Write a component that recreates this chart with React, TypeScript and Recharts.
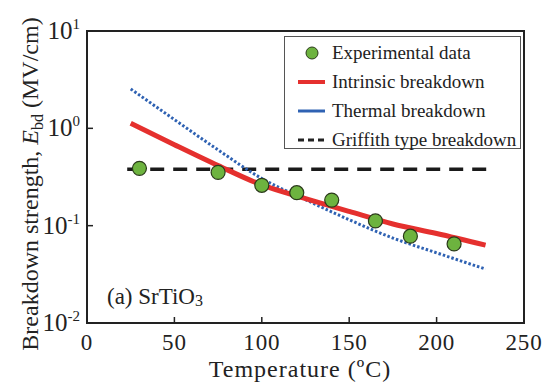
import React from "react";
import {
  ComposedChart,
  Line,
  Scatter,
  XAxis,
  YAxis,
  ReferenceArea,
  Legend,
} from "recharts";

// 측정값 (온도 °C, 절연파괴 강도 MV/cm)
const tempsExp = [30, 75, 100, 120, 140, 165, 185, 210];
const ebdExp = [0.388, 0.353, 0.26, 0.218, 0.183, 0.112, 0.078, 0.065];

// 모델 곡선
const tempsModel = [25, 50, 75, 100, 125, 150, 175, 200, 228];
const ebdIntrinsic = [1.13, 0.68, 0.415, 0.262, 0.19, 0.14, 0.104, 0.083, 0.063];
const ebdThermal = [2.54, 1.23, 0.6, 0.305, 0.185, 0.115, 0.0746, 0.0526, 0.0358];
const tempsGriffith = [23, 229];
const ebdGriffith = [0.379, 0.379];

// 축 눈금
const xTicks = [0, 50, 100, 150, 200, 250];
const yTicks = [0.01, 0.1, 1, 10];
const yExponents = ["-2", "-1", "0", "1"];

const legendLabels = [
  "Experimental data",
  "Intrinsic breakdown",
  "Thermal breakdown",
  "Griffith type breakdown",
];

const FONT = '"Liberation Serif", "Times New Roman", serif';
const INK = "#222";
const RED = "#e5302e";
const BLUE = "#2f62b3";
const GREEN = "#6db33f";

const toRows = (xs: number[], ys: number[]) =>
  xs.map((t, i) => ({ t, v: ys[i] }));

const expData = toRows(tempsExp, ebdExp);
const intrinsicData = toRows(tempsModel, ebdIntrinsic);
const thermalData = toRows(tempsModel, ebdThermal);
const griffithData = toRows(tempsGriffith, ebdGriffith);

const XTick = (props: any) => {
  const { x, y, payload } = props;
  return (
    <g>
      <line x1={x} y1={y} x2={x} y2={y - 6} stroke={INK} strokeWidth={1.5} />
      <text
        x={x}
        y={y + 27}
        textAnchor="middle"
        fontSize={23}
        letterSpacing={0.8}
        fill={INK}
        fontFamily={FONT}
      >
        {payload.value}
      </text>
    </g>
  );
};

const YTick = (props: any) => {
  const { x, y, payload } = props;
  const idx = yTicks.indexOf(payload.value);
  return (
    <g>
      <line x1={x} y1={y} x2={x + 6} y2={y} stroke={INK} strokeWidth={1.5} />
      <text x={x - 7} y={y + 8} textAnchor="end" fontSize={25} fill={INK} fontFamily={FONT}>
        10
        <tspan dy={-10} fontSize={15}>
          {yExponents[idx]}
        </tspan>
      </text>
    </g>
  );
};

const renderXTitle = () => (
  <text
    x={300}
    y={377}
    textAnchor="middle"
    fontSize={24}
    letterSpacing={1}
    fill={INK}
    fontFamily={FONT}
  >
    Temperature (ºC)
  </text>
);

const renderYTitle = () => (
  <text
    x={38}
    y={184}
    transform="rotate(-90, 38, 184)"
    textAnchor="middle"
    fontSize={24}
    fill={INK}
    fontFamily={FONT}
  >
    Breakdown strength,{" "}
    <tspan fontStyle="italic">E</tspan>
    <tspan fontSize={16} dy={5}>
      bd
    </tspan>
    <tspan dy={-5}> (MV/cm)</tspan>
  </text>
);

const Swatch = ({ i }: { i: number }) => (
  <svg width={30} height={14}>
    {i === 0 && <circle cx={15} cy={7} r={6} fill={GREEN} stroke="#2a3a1a" strokeWidth={1} />}
    {i === 1 && <line x1={1} y1={7} x2={28} y2={7} stroke={RED} strokeWidth={4} />}
    {i === 2 && <line x1={1} y1={7} x2={28} y2={7} stroke={BLUE} strokeWidth={3} />}
    {i === 3 && (
      <line x1={1} y1={7} x2={28} y2={7} stroke={INK} strokeWidth={3} strokeDasharray="6 4" />
    )}
  </svg>
);

const renderLegend = () => (
  <div
    style={{
      position: "relative",
      width: 235,
      height: 111,
      border: "1px solid #555",
      background: "#fff",
      fontFamily: FONT,
      fontSize: 19,
      color: INK,
    }}
  >
    {legendLabels.map((label, i) => (
      <div
        key={label}
        style={{
          position: "absolute",
          left: 12,
          top: 4 + i * 29,
          height: 24,
          display: "flex",
          alignItems: "center",
          whiteSpace: "nowrap",
        }}
      >
        <Swatch i={i} />
        <span style={{ marginLeft: 5 }}>{label}</span>
      </div>
    ))}
  </div>
);

export default function App() {
  return (
    <div
      style={{
        position: "absolute",
        left: 0,
        top: 0,
        width: 557,
        height: 388,
        background: "#fff",
        fontFamily: FONT,
      }}
    >
      <ComposedChart
        width={557}
        height={388}
        margin={{ top: 31, right: 33, left: 0, bottom: 0 }}
      >
        <XAxis
          dataKey="t"
          type="number"
          domain={[0, 250]}
          ticks={xTicks}
          height={65}
          axisLine={false}
          tickLine={false}
          tickSize={0}
          tickMargin={0}
          tick={<XTick />}
          label={{ content: renderXTitle }}
        />
        <YAxis
          type="number"
          scale="log"
          domain={[0.01, 10]}
          ticks={yTicks}
          allowDataOverflow
          width={87}
          axisLine={false}
          tickLine={false}
          tickSize={0}
          tickMargin={0}
          tick={<YTick />}
          label={{ content: renderYTitle }}
        />
        <ReferenceArea
          x1={0}
          x2={250}
          y1={0.01}
          y2={10}
          fill="none"
          stroke={INK}
          strokeWidth={2}
          ifOverflow="visible"
        />
        <Line
          data={griffithData}
          dataKey="v"
          type="linear"
          stroke="#1a1a1a"
          strokeWidth={3.5}
          strokeDasharray="14 9"
          dot={false}
          isAnimationActive={false}
        />
        <Line
          data={thermalData}
          dataKey="v"
          type="monotone"
          stroke={BLUE}
          strokeWidth={3}
          strokeDasharray="2.5 2"
          dot={false}
          isAnimationActive={false}
        />
        <Line
          data={intrinsicData}
          dataKey="v"
          type="monotone"
          stroke={RED}
          strokeWidth={5}
          dot={false}
          isAnimationActive={false}
        />
        <Scatter
          data={expData}
          dataKey="v"
          isAnimationActive={false}
          shape={(p: any) => (
            <circle cx={p.cx} cy={p.cy} r={7} fill={GREEN} stroke="#2a3a1a" strokeWidth={1.2} />
          )}
        />
        <Legend
          layout="horizontal"
          verticalAlign="middle"
          align="center"
          content={renderLegend}
          wrapperStyle={{ left: 284, top: 36, width: 237, height: 113 }}
        />
      </ComposedChart>
      <div
        style={{
          position: "absolute",
          left: 107,
          top: 286,
          fontSize: 23,
          lineHeight: "22px",
          color: INK,
          whiteSpace: "nowrap",
        }}
      >
        (a) SrTiO<sub style={{ fontSize: 16, verticalAlign: "-2px", lineHeight: 0 }}>3</sub>
      </div>
    </div>
  );
}
